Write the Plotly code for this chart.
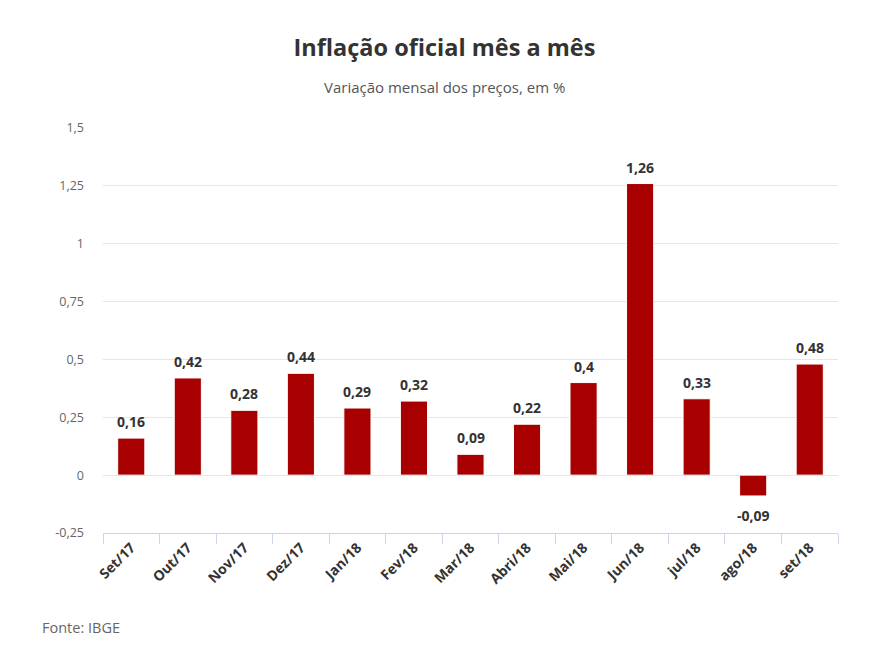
import plotly.graph_objects as go

categories = ["Set/17", "Out/17", "Nov/17", "Dez/17", "Jan/18", "Fev/18", "Mar/18",
              "Abri/18", "Mai/18", "Jun/18", "jul/18", "ago/18", "set/18"]
values = [0.16, 0.42, 0.28, 0.44, 0.29, 0.32, 0.09, 0.22, 0.40, 1.26, 0.33, -0.09, 0.48]
labels = [("%g" % v).replace(".", ",") for v in values]
y_ticks = [-0.25, 0, 0.25, 0.5, 0.75, 1, 1.25, 1.5]
y_tick_labels = ["-0,25", "0", "0,25", "0,5", "0,75", "1", "1,25", "1,5"]

FONT = "Open Sans, Noto Sans, sans-serif"
W, H = 889, 647
PW, PH = W - 154, H - 242

fig = go.Figure(go.Bar(
    x=categories, y=values,
    marker=dict(color="#a80000", line=dict(color="#ffffff", width=1)),
    width=0.48, cliponaxis=False,
))

ann = []
for c, v, t in zip(categories, values, labels):
    ann.append(dict(x=c, y=v, xref="x", yref="y", text="<b>%s</b>" % t, showarrow=False,
                    xanchor="center", yanchor="bottom" if v >= 0 else "top",
                    yshift=5 if v >= 0 else -8,
                    font=dict(family=FONT, size=14, color="#333333")))

ann += [
    dict(text="Variação mensal dos preços, em %", xref="paper", yref="paper",
         x=(W / 2 - 103) / PW, y=1 + (128 - 87) / PH,
         xanchor="center", yanchor="middle", showarrow=False,
         font=dict(family=FONT, size=15, color="#555555")),
    dict(text="Fonte: IBGE", xref="paper", yref="paper",
         x=-(103 - 40) / PW, y=-(627 - 533) / PH,
         xanchor="left", yanchor="middle", showarrow=False,
         font=dict(family=FONT, size=14.5, color="#666666")),
]

fig.update_layout(
    width=W, height=H, paper_bgcolor="white", plot_bgcolor="white",
    margin=dict(l=103, r=51, t=128, b=114),
    showlegend=False,
    font=dict(family=FONT),
    title=dict(text="<b>Inflação oficial mês a mês</b>", x=0.5, xanchor="center",
               yref="container", y=1 - 48 / H, yanchor="middle",
               font=dict(family=FONT, size=23.5, color="#333333")),
    annotations=ann,
    bargap=0.5,
)

fig.update_yaxes(range=[-0.25, 1.5], tickmode="array", tickvals=y_ticks, ticktext=y_tick_labels,
                 showgrid=True, gridcolor="#e6e6e6", gridwidth=1, zeroline=True,
                 zerolinecolor="#e6e6e6", zerolinewidth=1, showline=False, ticks="",
                 tickfont=dict(family=FONT, size=12.5, color="#666666"),
                 ticklabelstandoff=18)
fig.update_xaxes(showline=True, linecolor="#ccd6eb", linewidth=1, ticks="outside",
                 tickson="boundaries", ticklen=10, tickcolor="#ccd6eb", tickangle=-45,
                 tickfont=dict(family=FONT, size=14, color="#333333", weight="bold"),
                 showgrid=False)

fig.write_html("out.html")
